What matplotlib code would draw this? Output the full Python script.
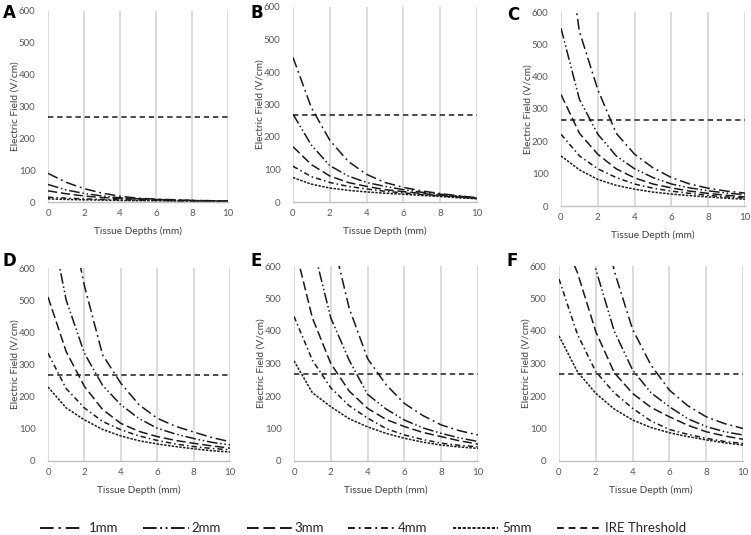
import matplotlib
matplotlib.use("Agg")
import matplotlib.pyplot as plt
from matplotlib.lines import Line2D

depth = [0, 1, 2, 3, 4, 5, 6, 7, 8, 9, 10]
series_names = ["1mm", "2mm", "3mm", "4mm", "5mm"]
threshold = 267

A_1mm = [90, 62, 42, 28, 18, 12, 9, 7, 5, 4, 3]
A_2mm = [55, 38, 27, 19, 13, 10, 8, 6, 5, 4, 3]
A_3mm = [35, 26, 19, 14, 11, 9, 7, 5, 4, 3, 3]
A_4mm = [15, 12, 10, 8, 7, 6, 5, 4, 3, 3, 2]
A_5mm = [10, 8, 7, 6, 5, 4, 4, 3, 3, 2, 2]

B_1mm = [445, 290, 190, 125, 85, 60, 45, 34, 26, 19, 13]
B_2mm = [270, 175, 112, 80, 60, 48, 38, 30, 24, 18, 13]
B_3mm = [170, 115, 80, 60, 48, 38, 32, 26, 21, 16, 12]
B_4mm = [110, 78, 60, 48, 40, 33, 28, 23, 19, 15, 11]
B_5mm = [75, 55, 43, 36, 31, 27, 24, 20, 17, 13, 10]

C_1mm = [940, 540, 360, 225, 160, 118, 88, 68, 55, 46, 40]
C_2mm = [550, 330, 222, 155, 115, 88, 68, 56, 47, 40, 35]
C_3mm = [345, 225, 160, 115, 87, 68, 56, 46, 39, 33, 28]
C_4mm = [222, 155, 115, 88, 68, 55, 46, 39, 33, 28, 25]
C_5mm = [155, 112, 82, 64, 52, 43, 37, 32, 28, 24, 21]

D_1mm = [1300, 820, 545, 330, 242, 175, 133, 108, 90, 73, 60]
D_2mm = [785, 500, 335, 235, 175, 132, 102, 84, 70, 58, 50]
D_3mm = [510, 340, 232, 160, 117, 92, 76, 64, 55, 47, 40]
D_4mm = [335, 225, 165, 123, 97, 78, 64, 53, 45, 39, 35]
D_5mm = [230, 165, 128, 98, 78, 63, 53, 45, 38, 32, 28]

E_1mm = [1700, 1100, 706, 470, 315, 235, 177, 140, 111, 93, 80]
E_2mm = [1050, 669, 440, 310, 205, 160, 126, 102, 85, 71, 60]
E_3mm = [669, 440, 300, 215, 162, 128, 106, 88, 75, 62, 52]
E_4mm = [445, 310, 225, 170, 132, 100, 80, 66, 55, 48, 44]
E_5mm = [308, 210, 167, 130, 105, 85, 70, 58, 49, 43, 39]

F_1mm = [2200, 1400, 885, 585, 405, 295, 218, 170, 136, 115, 100]
F_2mm = [1300, 790, 590, 400, 280, 210, 167, 130, 106, 90, 80]
F_3mm = [713, 580, 398, 272, 208, 165, 136, 110, 90, 77, 67]
F_4mm = [560, 390, 275, 210, 162, 123, 97, 82, 70, 60, 54]
F_5mm = [385, 275, 208, 160, 126, 103, 87, 75, 65, 56, 49]

panels = {
    "A": [A_1mm, A_2mm, A_3mm, A_4mm, A_5mm],
    "B": [B_1mm, B_2mm, B_3mm, B_4mm, B_5mm],
    "C": [C_1mm, C_2mm, C_3mm, C_4mm, C_5mm],
    "D": [D_1mm, D_2mm, D_3mm, D_4mm, D_5mm],
    "E": [E_1mm, E_2mm, E_3mm, E_4mm, E_5mm],
    "F": [F_1mm, F_2mm, F_3mm, F_4mm, F_5mm],
}
xlabels = {"A": "Tissue Depths (mm)", "B": "Tissue Depth (mm)", "C": "Tissue Depth (mm)",
           "D": "Tissue Depth (mm)", "E": "Tissue Depth (mm)", "F": "Tissue Depth (mm)"}

W, H = 751, 535
# pixel boxes: left, right, top, bottom
boxes = {
    "A": (48, 228, 11, 202),
    "B": (293, 477, 7, 202),
    "C": (561, 745, 12, 206),
    "D": (48, 230, 268, 461),
    "E": (294, 478, 266, 461),
    "F": (559, 743, 266, 461),
}
letter_pos = {"A": (3, 4), "B": (250, 4), "C": (507, 6), "D": (3, 252), "E": (250, 252), "F": (507, 252)}

dashes = [
    (0, (7, 2.5, 1.2, 2.5)),
    (0, (7, 1.8, 1, 1.8, 1, 1.8)),
    (0, (6, 2.5)),
    (0, (3.5, 2, 1, 2)),
    (0, (1.6, 0.9)),
]
thr_dash = (0, (3.5, 2.5))
lc = "#1a1a1a"
lw = 1.1

plt.rcParams['font.family'] = ['Lato', 'DejaVu Sans']
fig = plt.figure(figsize=(W / 100, H / 100), dpi=100)

for key, series in panels.items():
    l, r, t, b = boxes[key]
    ax = fig.add_axes([l / W, 1 - b / H, (r - l) / W, (b - t) / H])
    for vals, ls in zip(series, dashes):
        ax.plot(depth, vals, color=lc, lw=lw, linestyle=ls, dash_capstyle='butt')
    ax.plot([depth[0], depth[-1]], [threshold, threshold], color=lc, lw=lw, linestyle=thr_dash)
    ax.set_xlim(0, 10)
    ax.set_ylim(0, 600)
    ax.set_xticks(range(0, 11, 2))
    ax.set_yticks(range(0, 601, 100))
    ax.grid(axis='x', color='#d9d9d9', lw=1.3)
    ax.grid(axis='y', visible=False)
    ax.set_axisbelow(True)
    for s in ['top', 'right', 'left']:
        ax.spines[s].set_visible(False)
    ax.spines['bottom'].set_color('#bfbfbf')
    ax.spines['bottom'].set_linewidth(1.0)
    ax.tick_params(length=0, labelsize=7, labelcolor='#595959')
    ax.tick_params(axis='x', pad=5)
    ax.tick_params(axis='y', pad=9)
    ax.set_xlabel(xlabels[key], fontsize=7.3, color='#404040')
    ax.set_ylabel("Electric Field (V/cm)", fontsize=7.3, color='#404040')
    ax.xaxis.set_label_coords(0.5, -29 / (b - t))
    ax.xaxis.label.set_verticalalignment('center')
    ax.yaxis.set_label_coords(-33 / (r - l), 0.5)
    ax.yaxis.label.set_verticalalignment('center')
    lx, ly = letter_pos[key]
    fig.text(lx / W, 1 - ly / H, key, fontsize=12, fontweight='bold', family='DejaVu Sans',
             ha='left', va='top')

# legend, placed by hand (pixel x of handle start/end and text start)
leg_y = 1 - 528 / H
leg_handles = [(40, 80, 89), (143, 189, 191), (247, 292, 294), (348, 396, 398), (453, 498, 502), (557, 600, 605)]
labels = series_names + ["IRE Threshold"]
styles = dashes + [thr_dash]
for (x0, x1, xt), lab, ls in zip(leg_handles, labels, styles):
    fig.add_artist(Line2D([x0 / W, x1 / W], [leg_y, leg_y], transform=fig.transFigure,
                          color=lc, lw=1.4, linestyle=ls, dash_capstyle='butt'))
    fig.text(xt / W, leg_y, lab, fontsize=9.5, color='#262626', ha='left', va='center')

fig.savefig("out.png", dpi=100)
